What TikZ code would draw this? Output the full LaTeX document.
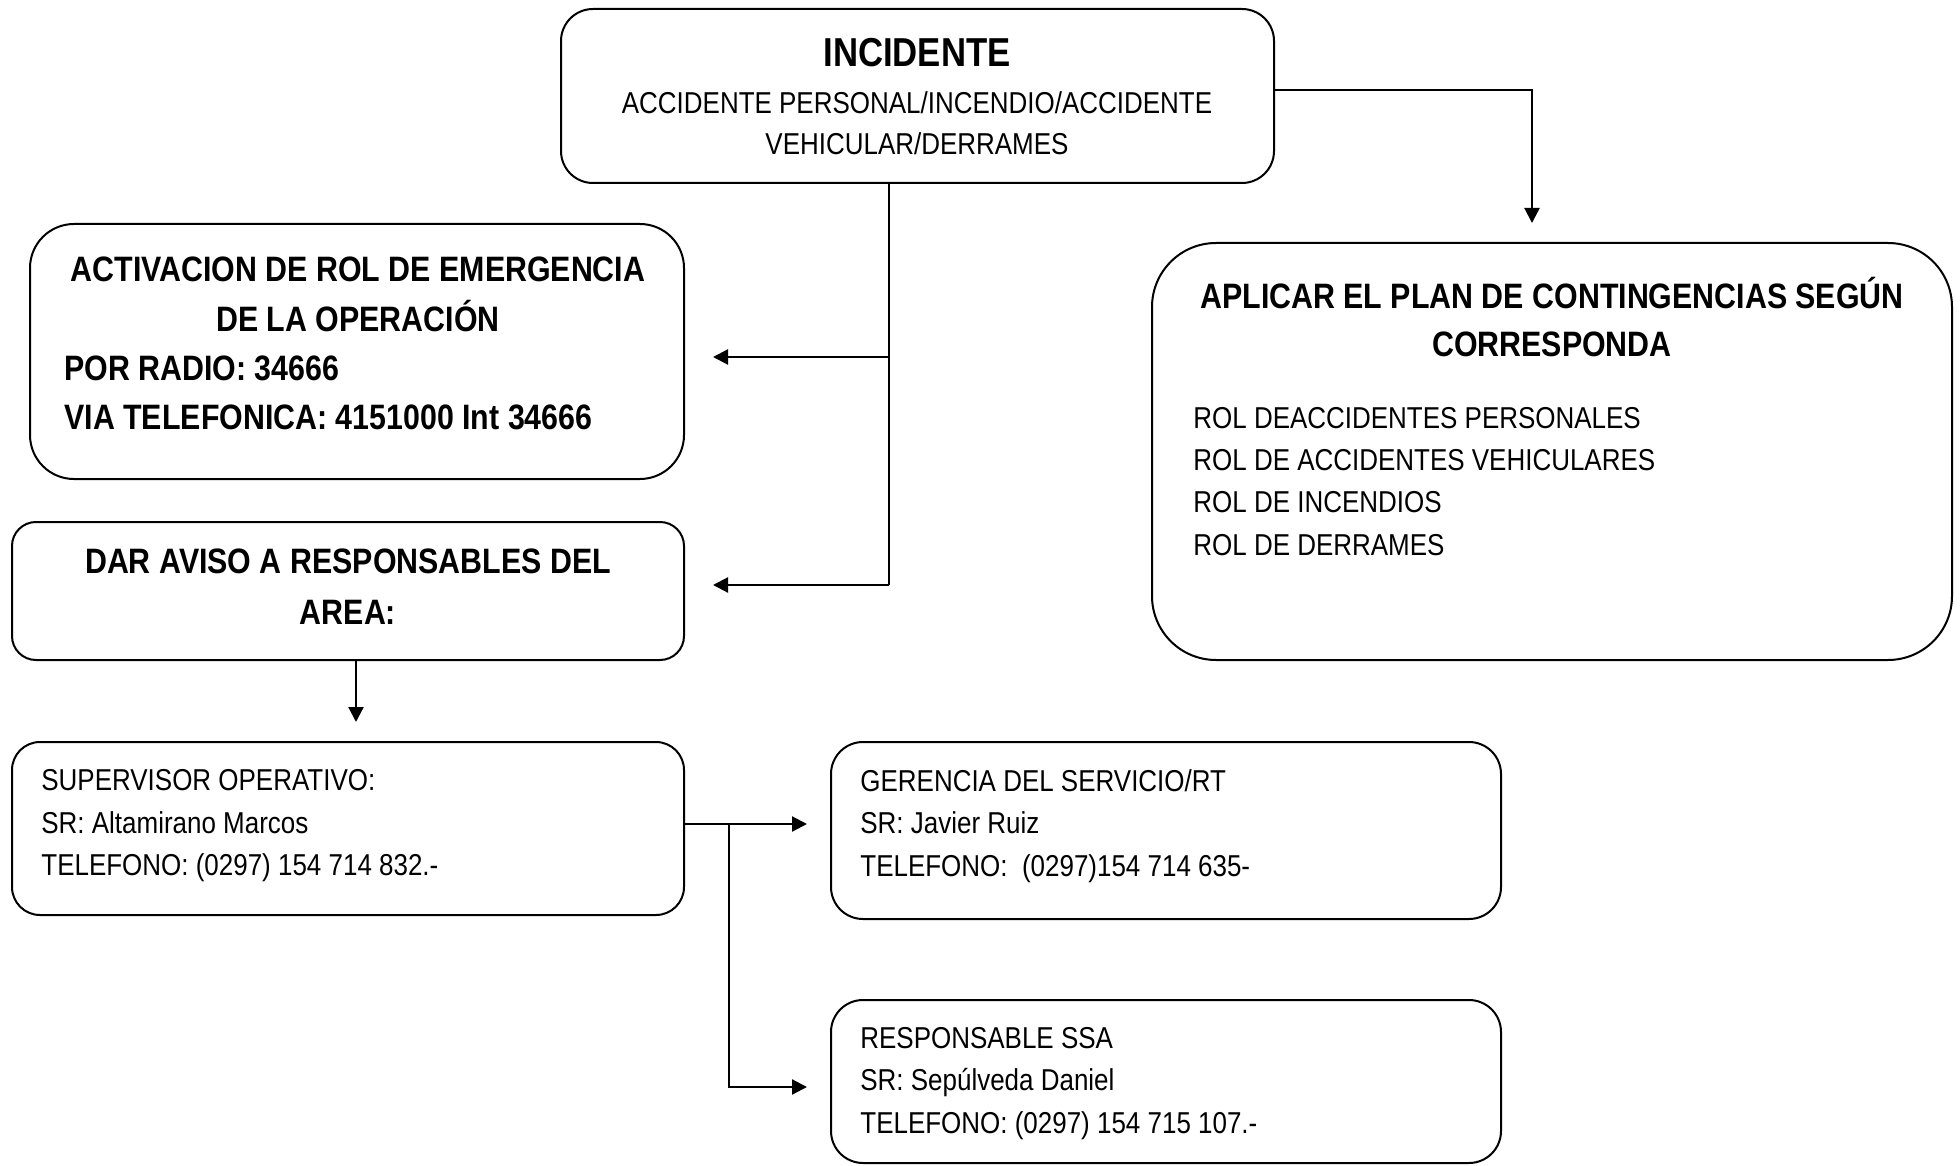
\documentclass[tikz,border=0pt]{standalone}
\usepackage{fontspec}
\setmainfont[FakeStretch=0.86]{Liberation Sans}
\usetikzlibrary{fit,arrows.meta}

\begin{document}
\begin{tikzpicture}[x=0.5pt,y=-0.5pt,
  box/.style={draw, line width=1pt, inner sep=0pt},
  link/.style={line width=1.1pt},
  arr/.style={link, -{Triangle[length=7.5pt,width=7.5pt]}},
  reg/.style={inner sep=0pt, font=\fontsize{15.1pt}{21pt}\selectfont},
  bld/.style={inner sep=0pt, font=\fontsize{17.65pt}{24.5pt}\selectfont\bfseries},
  ttl/.style={inner sep=0pt, font=\fontsize{20.2pt}{24pt}\selectfont\bfseries},
]
\useasboundingbox (0,0) rectangle (1960,1166);

% --- top: incident
\node[box, rounded corners=16pt, fit={(561,9) (1274,183)}] (inc) {};
\node[ttl, anchor=base] (inc1) at (917,66.5) {INCIDENTE};
\node[reg, anchor=base] (inc2) at (917,114) {ACCIDENTE PERSONAL/INCENDIO/ACCIDENTE};
\node[reg, anchor=base] (inc3) at (917,155) {VEHICULAR/DERRAMES};

% --- emergency roll activation
\node[box, rounded corners=22pt, fit={(30,224) (684,479)}] (act) {};
\node[bld, anchor=base] (act1) at (358,282) {ACTIVACION DE ROL DE EMERGENCIA};
\node[bld, anchor=base] (act2) at (358,331) {DE LA OPERACIÓN};
\node[bld, anchor=base west] (act3) at (64,380) {POR RADIO: 34666};
\node[bld, anchor=base west] (act4) at (64,429) {VIA TELEFONICA: 4151000 Int 34666};

% --- notify area heads
\node[box, rounded corners=12pt, fit={(12,522) (684,660)}] (dar) {};
\node[bld, anchor=base] (dar1) at (348,573) {DAR AVISO A RESPONSABLES DEL};
\node[bld, anchor=base] (dar2) at (348,624) {AREA:};

% --- contingency plan
\node[box, rounded corners=32pt, fit={(1152,243) (1952,660)}] (apl) {};
\node[bld, anchor=base] (apl1) at (1552,308) {APLICAR EL PLAN DE CONTINGENCIAS SEGÚN};
\node[bld, anchor=base] (apl2) at (1552,357) {CORRESPONDA};
\node[reg, anchor=base west] (apl3) at (1193,428) {ROL DEACCIDENTES PERSONALES};
\node[reg, anchor=base west] (apl4) at (1193,470) {ROL DE ACCIDENTES VEHICULARES};
\node[reg, anchor=base west] (apl5) at (1193,512) {ROL DE INCENDIOS};
\node[reg, anchor=base west] (apl6) at (1193,555) {ROL DE DERRAMES};

% --- contacts
\node[box, rounded corners=14pt, fit={(12,742) (684,915)}] (sup) {};
\node[reg, anchor=base west] (sup1) at (41,790) {SUPERVISOR OPERATIVO:};
\node[reg, anchor=base west] (sup2) at (41,833) {SR: Altamirano Marcos};
\node[reg, anchor=base west] (sup3) at (41,875) {TELEFONO: (0297) 154 714 832.-};

\node[box, rounded corners=16pt, fit={(831,742) (1501,919)}] (ger) {};
\node[reg, anchor=base west] (ger1) at (860,791) {GERENCIA DEL SERVICIO/RT};
\node[reg, anchor=base west] (ger2) at (860,833) {SR: Javier Ruiz};
\node[reg, anchor=base west] (ger3) at (860,876) {TELEFONO:\ \ (0297)154 714 635-};

\node[box, rounded corners=16pt, fit={(831,1000) (1501,1163)}] (res) {};
\node[reg, anchor=base west] (res1) at (860,1048) {RESPONSABLE SSA};
\node[reg, anchor=base west] (res2) at (860,1090.5) {SR: Sepúlveda Daniel};
\node[reg, anchor=base west] (res3) at (860,1133) {TELEFONO: (0297) 154 715 107.-};

% --- connectors
\coordinate (jv) at (889,585);
\coordinate (ta) at (713,357);
\coordinate (td) at (713,585);
\draw[link] (inc.south -| jv) -- (jv);
\draw[arr] (jv |- ta) -- (ta);
\draw[arr] (jv) -- (td);

\coordinate (rc) at (1532,90);
\coordinate (tp) at (1532,223);
\draw[arr] (inc.east |- rc) -- (rc) -- (tp);

\coordinate (ts) at (356,722);
\draw[arr] (dar.south -| ts) -- (ts);

\coordinate (tg) at (807,824);
\coordinate (bj) at (729,824);
\coordinate (tr) at (807,1087);
\draw[arr] (sup.east |- tg) -- (tg);
\draw[arr] (bj) -- (bj |- tr) -- (tr);
\end{tikzpicture}
\end{document}
